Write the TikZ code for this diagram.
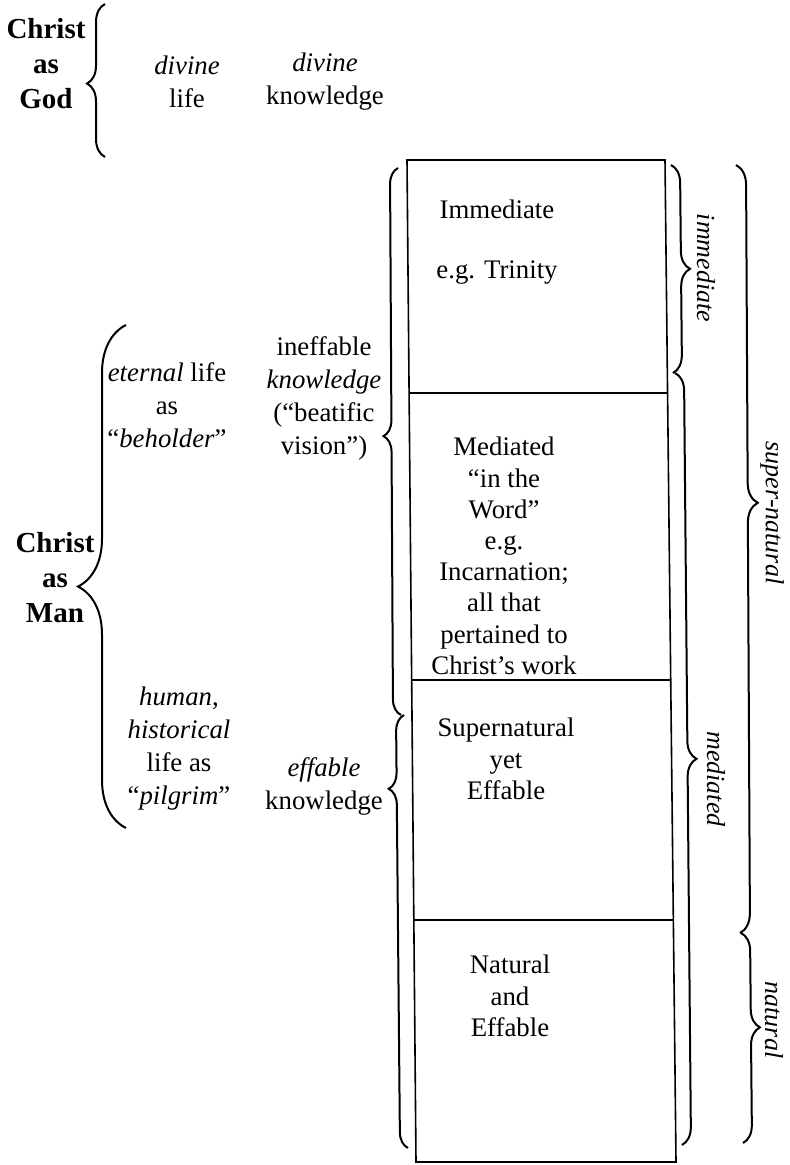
\documentclass[tikz,border=0pt]{standalone}
\usepackage{fontspec}
\setmainfont{Liberation Serif}
\usetikzlibrary{decorations.pathreplacing,calc,positioning}

\begin{document}
\begin{tikzpicture}[x=0.5pt,y=-0.5pt,% one unit is one pixel of the scan, y runs down
			every node/.style={
				align=center,  		% so that "\\" breaks the lines
				inner sep=0pt,
				font=\fontsize{13.4}{16.5}\selectfont
			},
			head/.style={font=\fontsize{14.5}{17.5}\selectfont\bfseries},
			cell/.style={font=\fontsize{13.4}{15.6}\selectfont},
			side/.style={rotate=-90,font=\fontsize{13}{15.6}\selectfont\itshape},
			curly/.style={draw,line width=1pt,decorate,decoration={brace,amplitude=#1}}
		]
		\useasboundingbox (0,0) rectangle (790,1165);
		% the column of kinds of knowledge (the scan leans a little)
		\coordinate (TL) at (407,160);
		\coordinate (TR) at (665,160);
		\coordinate (BR) at (676,1162);
		\coordinate (BL) at (416,1162);
		\draw[line width=0.8pt] (TL) -- (TR) -- (BR) -- (BL) -- cycle;
		\foreach \t in {0.2325,0.519,0.7585}
			\draw[line width=0.8pt] ($(TL)!\t!(BL)$) -- ($(TR)!\t!(BR)$);
		\node[cell](imm) at (497,242){Immediate\\[14pt]e.g. Trinity};
		\node[cell](med) at (504,556){Mediated\\“in the\\Word”\\e.g.\\Incarnation;\\all that\\pertained to\\Christ’s work};
		\node[cell](supeff) at (506,759){Supernatural\\yet\\Effable};
		\node[cell](nateff) at (510,996){Natural\\and\\Effable};
		% Christ as God
		\node[head](god) at (46,64){Christ\\as\\God};
		\node(divlife) at (187,82){\textit{divine}\\life};
		\node(divknow) at (325,82){\textit{divine}\\knowledge};
		\draw[curly=9pt,decoration={aspect=0.48}] (105,157) -- (105,4);
		% Christ as Man
		\node[head](man) at (55,578){Christ\\as\\Man};
		\node(eternal) at (167,405){\textit{eternal} life\\as\\“\textit{beholder}”};
		\node(ineff) at (324,398){ineffable\\\textit{knowledge}\\(“beatific\\vision”)};
		\node(human) at (179,749){\textit{human},\\\textit{historical}\\life as\\“\textit{pilgrim}”};
		\node(eff) at (324,786){\textit{effable}\\knowledge};
		\draw[curly=24pt,decoration={aspect=0.48}] (126,828) -- (126,325);
		\draw[curly=8pt,decoration={aspect=0.51}] (401,715) -- (398,168);
		\draw[curly=8pt,decoration={aspect=0.83}] (408,1148) -- (404,715);
		% braces on the right
		\draw[curly=9pt,decoration={aspect=0.5}] (671,165) -- (673,373);
		\draw[curly=9pt,decoration={aspect=0.5}] (675,373) -- (682,1145);
		\draw[curly=10pt,decoration={aspect=0.44}] (736,165) -- (740,933);
		\draw[curly=9pt,decoration={aspect=0.45}] (741,933) -- (743,1143);
		\node[side](limm) at (706,268){immediate};
		\node[side](lmed) at (716,779){mediated};
		\node[side](lsup) at (772,513){super-natural};
		\node[side](lnat) at (774,1020){natural};
	\end{tikzpicture}
\end{document}
